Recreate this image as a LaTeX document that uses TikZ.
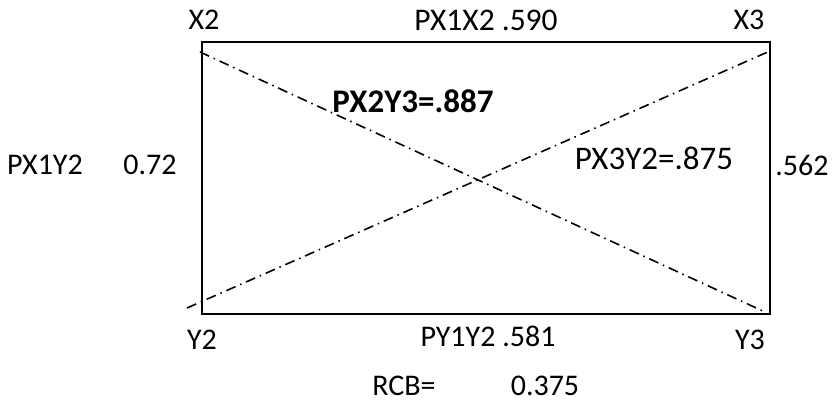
\documentclass[tikz,border=0pt]{standalone}
\usepackage{fontspec}
\setmainfont{Carlito}
\begin{document}
\begin{tikzpicture}[x=1pt,y=-1pt,
  lbl/.style={inner sep=0pt,font=\fontsize{30}{36}\selectfont},
  blbl/.style={inner sep=0pt,font=\fontsize{33}{40}\selectfont\bfseries},
  frame/.style={line width=2pt},
  dd/.style={line width=1.6pt,dash pattern=on 10pt off 5pt on 1.5pt off 5pt}]
\useasboundingbox (0,0) rectangle (835,402);
% frame corners
\coordinate (tl) at (202,42);
\coordinate (br) at (770,314);
\draw[frame] (tl) rectangle (br);
% diagonal ends
\coordinate (d1a) at (200,52);
\coordinate (d1b) at (765,312);
\coordinate (d2a) at (187,308);
\coordinate (d2b) at (770,51);
\draw[dd] (d1a) -- (d1b);
\draw[dd] (d2a) -- (d2b);
% labels
\node[lbl] (x2) at (204,20) {X2};
\node[lbl,font=\fontsize{31.5}{38}\selectfont] (px1x2) at (486,20) {PX1X2 .590};
\node[lbl] (x3) at (749,20) {X3};
\node[blbl] (px2y3) at (413,101) {PX2Y3=.887};
\node[lbl] (px1y2) at (45,165) {PX1Y2};
\node[lbl] (v072) at (150,165) {0.72};
\node[lbl,font=\fontsize{33}{40}\selectfont] (px3y2) at (654,158) {PX3Y2=.875};
\node[lbl] (v562) at (802,165) {.562};
\node[lbl] (y2) at (202,340) {Y2};
\node[lbl] (py1y2) at (488,336) {PY1Y2 .581};
\node[lbl] (y3) at (750,340) {Y3};
\node[lbl] (rcb) at (404,386) {RCB=};
\node[lbl] (v0375) at (545,386) {0.375};
\end{tikzpicture}
\end{document}
